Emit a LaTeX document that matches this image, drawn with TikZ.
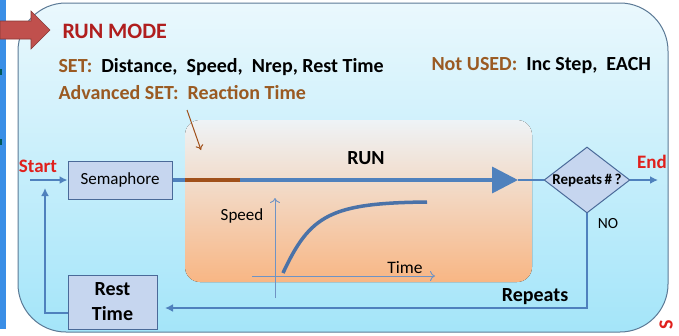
\documentclass[tikz,border=0pt]{standalone}
\usepackage{fontspec}
\setmainfont{Carlito}
\usetikzlibrary{arrows.meta,shapes.geometric}
\definecolor{titlered}{HTML}{B01E1E}
\definecolor{endred}{HTML}{E0201C}
\definecolor{setbrown}{HTML}{9A5A22}
\definecolor{runbrown}{HTML}{A0501A}
\definecolor{flowblue}{HTML}{4F81BD}
\definecolor{axisblue}{HTML}{6F93C4}
\definecolor{curveblue}{HTML}{4A72A8}
\definecolor{boxfill}{HTML}{C6D6EF}
\definecolor{boxline}{HTML}{4A6A99}
\definecolor{outline}{HTML}{5C7A96}
\definecolor{bgtop}{HTML}{EAF8FD}
\definecolor{bgbot}{HTML}{A4E5F9}
\definecolor{runtop}{HTML}{EEF3F6}
\definecolor{runmid}{HTML}{F4D9C4}
\definecolor{runbot}{HTML}{F8B684}
\definecolor{arrowred}{HTML}{C0504D}
\definecolor{stripblue}{HTML}{3A8EE6}
\begin{document}
\begin{tikzpicture}[x=1pt,y=-1pt,
		box/.style={draw=boxline,fill=boxfill,line width=1pt,inner sep=0pt},
		flow/.style={draw=flowblue,line width=1.8pt,-{Latex[length=8pt,width=8pt]}},
		runline/.style={line width=3.6pt},
		axis/.style={draw=axisblue,line width=0.9pt,-{To[length=5pt,width=10pt]}},
		boldtext/.style={font=\bfseries\fontsize{#1}{#1}\selectfont},
		plaintext/.style={font=\fontsize{#1}{#1}\selectfont}
	]
	\useasboundingbox (0,0) rectangle (679,335);
	\fill[stripblue] (0,0) rectangle (6,329);
	\fill[teal!70!black] (0,69) rectangle (2,75);
	\fill[teal!70!black] (0,139) rectangle (2,145);
	\draw[outline,line width=1pt,rounded corners=48pt,top color=bgtop,bottom color=bgbot] (18,3) rectangle (668,332);
	\filldraw[fill=arrowred,draw=arrowred!70!black,line width=0.6pt] (0,21) -- (31,21) -- (31,11) -- (50,30) -- (31,49) -- (31,39) -- (0,39) -- cycle;
	\fill[rounded corners=15pt,top color=runtop,middle color=runmid,bottom color=runbot] (185,120) rectangle (532,282);

	\node[boldtext=22,text=titlered,anchor=west] (mode) at (59,31) {RUN MODE};
	\node[boldtext=20,anchor=west] (set) at (55,67) {\textcolor{setbrown}{SET:}\ \ Distance,\ \ Speed,\ \ Nrep, Rest Time};
	\node[boldtext=20,text=setbrown,anchor=west] (adv) at (55,93) {Advanced SET:\ \ Reaction Time};
	\node[boldtext=20,anchor=west] (unused) at (428,66) {\textcolor{setbrown}{Not USED:}\ \ Inc Step,\ \ EACH};

	\node[box,minimum width=104pt,minimum height=38pt,plaintext=17] (sem) at (120,180) {Semaphore};
	\node[box,minimum width=89pt,minimum height=54pt,align=center,font=\bfseries\fontsize{20}{25}\selectfont] (rest) at (112.5,302) {Rest\\Time};
	\node[box,diamond,aspect=1.3,minimum width=81pt,minimum height=62pt,boldtext=15] (rep) at (587,180) {Repeats\,\#\,?};

	\node[boldtext=19,text=endred] (start) at (38,166) {Start};
	\node[boldtext=19,text=endred] (end) at (652,162) {End};
	\node[boldtext=20] (run) at (366,158) {RUN};
	\node[plaintext=15.5] (no) at (608,224) {NO};
	\node[boldtext=20] (again) at (535,297) {Repeats};
	\node[plaintext=17] (speed) at (242,216) {Speed};
	\node[plaintext=17.5] (time) at (405,268) {Time};
	\node[boldtext=20,text=endred,rotate=90,inner sep=0pt] (cut) at (666,325) {S};

	\coordinate (in) at (30,180);
	\coordinate (out) at (658,180);
	\coordinate (react) at (185,180);
	\coordinate (go) at (240,180);
	\coordinate (tip) at (518,180);
	\coordinate (back) at (165,308);
	\coordinate (loop) at (45,188);
	\coordinate (hint) at (187,110);
	\coordinate (hintend) at (201,150);

	\draw[flow] (in) -- (sem.west);
	\draw[flowblue,runline] (sem.east) -- (react);
	\draw[runbrown,runline] (react) -- (go);
	\draw[flowblue,runline,-{Triangle[length=26pt,width=26pt]}] (go) -- (tip);
	\draw[flowblue,line width=2pt] (tip) -- (rep.west);
	\draw[flow] (rep.east) -- (out);
	\draw[flow] (rep.south) |- (back);
	\draw[flow] ([yshift=-11pt]rest.west) -| (loop);
	\draw[runbrown,line width=1pt,-{To[length=5pt,width=8pt]}] (hint) -- (hintend);

	\draw[axis] (275,298) -- (275,198);
	\draw[axis] (252,276) -- (435,276);
	\draw[curveblue,line width=3.5pt] (283,273) .. controls (310,215) and (330,203) .. (427,202);
\end{tikzpicture}
\end{document}
